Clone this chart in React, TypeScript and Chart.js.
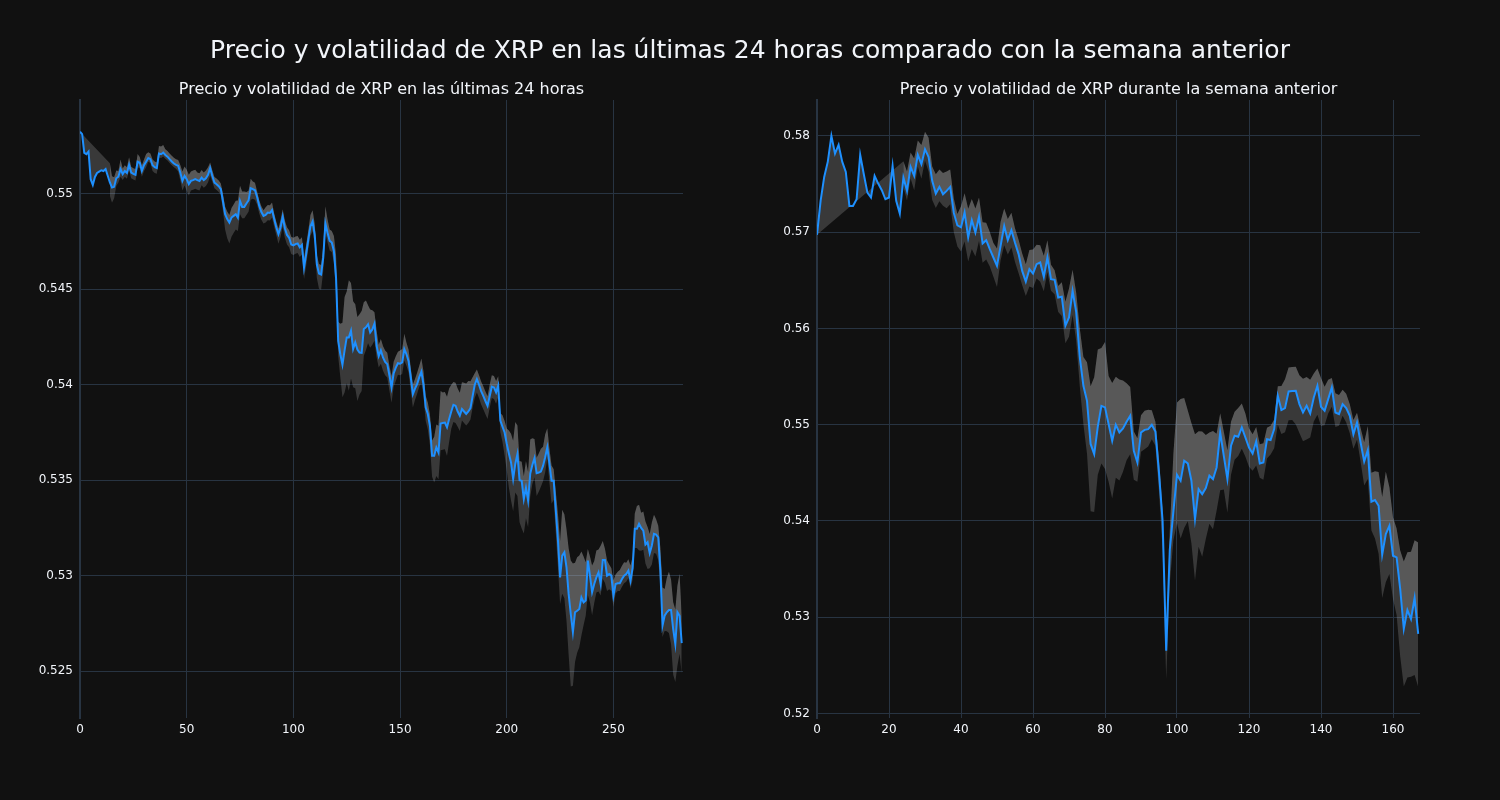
import React, { useEffect, useRef } from "react";
import { Chart, registerables } from "chart.js";

Chart.register(...registerables);

// ---- Last 24 hours (5-minute steps) ----
const dayPrice = [
  0.55326,0.55313,0.55215,0.55208,0.55222,0.55077,0.55047,0.55089,0.5511,0.55117,
  0.55124,0.5512,0.5513,0.55095,0.5506,0.55033,0.55037,0.55082,0.5509,0.5513,
  0.55103,0.5512,0.5511,0.55152,0.55112,0.55105,0.551,0.55169,0.55164,0.5512,
  0.5515,0.55169,0.55188,0.55182,0.5515,0.5514,0.55135,0.55211,0.55208,0.55216,
  0.55204,0.55195,0.55182,0.5517,0.55159,0.55152,0.55147,0.55112,0.55068,0.55094,
  0.55077,0.55051,0.55068,0.55072,0.55077,0.55072,0.55068,0.55085,0.55072,0.55082,
  0.551,0.55135,0.55094,0.55059,0.55051,0.5504,0.55025,0.5496,0.54894,0.54868,
  0.5485,0.54876,0.54885,0.54894,0.54875,0.54963,0.54932,0.54932,0.5495,0.54966,
  0.5503,0.55025,0.55019,0.54984,0.54937,0.54905,0.54885,0.5489,0.54902,0.549,
  0.54915,0.54868,0.54824,0.54789,0.54824,0.5488,0.5482,0.54785,0.5477,0.54735,
  0.5473,0.54737,0.5474,0.5472,0.54733,0.54614,0.54684,0.5476,0.5483,0.54855,
  0.54785,0.5463,0.54583,0.54578,0.54666,0.54845,0.54797,0.54754,0.54745,0.547,
  0.5456,0.5423,0.5416,0.54105,0.5418,0.54248,0.54248,0.54283,0.54187,0.54222,
  0.54185,0.54169,0.54167,0.54292,0.54301,0.54317,0.54274,0.5429,0.5432,0.54204,
  0.5415,0.5418,0.54143,0.5412,0.54108,0.5405,0.53986,0.5406,0.5409,0.54113,
  0.5411,0.54117,0.54187,0.5416,0.54123,0.5404,0.53951,0.5398,0.54003,0.5404,
  0.54068,0.54,0.53882,0.53847,0.53785,0.53628,0.53628,0.53672,0.53645,0.53797,
  0.538,0.53802,0.53777,0.5382,0.5386,0.53895,0.5389,0.5386,0.53838,0.53873,
  0.5386,0.53847,0.5386,0.53878,0.5394,0.54,0.5403,0.54,0.53967,0.53942,
  0.53915,0.5389,0.5394,0.5399,0.53986,0.5396,0.53995,0.53812,0.5378,0.5375,
  0.53691,0.5364,0.53593,0.53507,0.53585,0.53637,0.535,0.53497,0.53401,0.5346,
  0.53393,0.53533,0.5358,0.53616,0.53537,0.5354,0.53545,0.53575,0.5362,0.53672,
  0.53586,0.53497,0.53497,0.5334,0.53183,0.52991,0.53105,0.53122,0.53043,0.52904,
  0.52799,0.52703,0.52808,0.52816,0.52825,0.52886,0.5286,0.5287,0.53079,0.53,
  0.52913,0.52956,0.52991,0.53017,0.52956,0.53082,0.53082,0.53,0.53008,0.53,
  0.52895,0.52956,0.5296,0.5296,0.52982,0.53,0.53008,0.53026,0.52973,0.5304,
  0.53245,0.53245,0.53271,0.5325,0.53236,0.53163,0.53175,0.53118,0.53158,0.53219,
  0.53215,0.53201,0.53026,0.52738,0.5279,0.52808,0.5282,0.5282,0.5272,0.52642,
  0.52808,0.5279,0.52646,
];

// band distance above / below the price, in units of 0.0001
const dayBandUp = [
  0,null,null,null,null,null,null,null,null,null,
  null,null,null,null,10,6,5,4,3,5,
  3,3,3,4,3,3,3,4,3,3,
  3,4,3,3,3,3,3,4,4,4,
  3,3,3,3,3,3,3,4,5,5,
  5,5,5,5,5,4,4,4,4,4,
  4,3,3,3,3,3,3,4,4,4,
  4,5,6,7,9,8,8,8,6,5,
  5,4,4,3,3,3,3,4,4,4,
  4,3,3,3,4,4,4,4,4,4,
  4,4,4,4,4,5,5,5,6,6,
  6,5,5,5,6,9,7,6,6,8,
  12,10,16,22,28,24,30,25,25,20,
  17,20,22,14,14,10,12,10,6,8,
  6,6,6,6,6,5,6,6,6,6,
  7,7,8,6,6,5,5,5,6,6,
  7,7,6,6,6,8,10,12,14,17,
  16,16,16,16,14,12,12,12,12,14,
  15,16,16,14,10,6,5,5,5,5,
  5,5,6,6,6,6,5,4,6,6,
  8,12,15,20,22,15,10,10,12,14,
  15,18,14,10,8,10,12,10,12,10,
  8,8,6,10,14,19,24,20,20,24,
  28,36,26,28,28,24,24,20,6,10,
  14,12,14,12,20,10,6,8,5,4,
  8,5,6,7,7,7,6,6,8,6,
  8,12,10,8,10,12,8,10,12,10,
  8,6,12,20,14,18,20,16,14,18,
  14,22,14,
];

const dayBandDown = [
  null,null,null,null,null,null,null,null,null,null,
  null,null,null,null,7,8,6,4,3,4,
  3,3,3,3,3,3,3,3,3,3,
  3,3,2,2,3,3,3,2,2,2,
  2,2,2,2,2,2,3,4,5,5,
  6,6,5,5,5,5,5,4,4,4,
  4,4,3,3,3,3,3,5,8,10,
  11,10,9,8,7,7,6,6,6,6,
  6,5,5,4,4,4,4,4,4,4,
  4,4,4,5,5,5,5,5,5,5,
  5,5,5,5,5,6,6,5,5,5,
  5,7,8,8,7,5,5,5,5,6,
  8,8,12,17,22,24,28,25,20,24,
  27,22,20,14,12,10,8,8,9,6,
  6,7,7,7,7,8,8,7,7,6,
  6,6,6,6,6,7,7,6,5,5,
  6,6,7,8,10,11,14,15,14,14,
  14,14,15,12,9,9,9,8,8,6,
  6,6,6,6,6,7,7,7,7,7,
  7,7,6,6,6,6,6,6,8,12,
  14,18,20,17,15,22,22,25,18,16,
  14,12,10,10,12,10,8,8,8,6,
  10,12,10,12,14,14,20,24,28,32,
  38,28,26,22,20,20,12,8,18,14,
  12,10,8,10,6,10,12,8,8,8,
  6,5,4,4,4,4,4,4,4,6,
  10,10,14,12,10,10,14,8,10,10,
  10,12,8,6,8,10,12,18,24,20,
  28,20,16,
];

const dayXTicks = [0, 50, 100, 150, 200, 250];
const dayYTicks = [0.525, 0.53, 0.535, 0.54, 0.545, 0.55];

// ---- Previous week (hourly steps) ----
const weekPrice = [
  0.56972,0.57325,0.57574,0.57733,0.58,0.57816,0.57907,0.57733,0.57626,0.57273,
  0.57273,0.57342,0.57803,0.57602,0.57411,0.5736,0.57585,0.57505,0.57436,0.57342,
  0.5736,0.57688,0.57325,0.57193,0.57567,0.57429,0.57678,0.57585,0.57803,0.57706,
  0.57862,0.5778,0.57533,0.57401,0.5747,0.57394,0.57429,0.5747,0.572,0.5707,
  0.5705,0.57204,0.56944,0.57125,0.56996,0.57159,0.56882,0.56917,0.56823,0.56737,
  0.5665,0.56858,0.57065,0.56917,0.57021,0.5689,0.56772,0.56598,0.56487,0.56616,
  0.5657,0.56668,0.56685,0.56536,0.56737,0.56512,0.56505,0.56321,0.5633,0.56027,
  0.56114,0.5639,0.5617,0.55698,0.55404,0.55248,0.548,0.54694,0.5498,0.55196,
  0.5518,0.55006,0.54833,0.54999,0.54919,0.5496,0.5503,0.55092,0.54729,0.54608,
  0.54919,0.54946,0.54954,0.54999,0.5493,0.545,0.54,0.52652,0.537,0.541,
  0.5448,0.54418,0.54626,0.54598,0.54418,0.5402,0.54331,0.54279,0.54342,0.5447,
  0.54435,0.54556,0.54919,0.54677,0.54435,0.54781,0.54885,0.54874,0.54971,0.54867,
  0.54763,0.54701,0.54826,0.54598,0.54608,0.54849,0.5484,0.54954,0.553,0.55152,
  0.55172,0.55345,0.5535,0.55352,0.55214,0.55127,0.55196,0.55116,0.55282,0.55404,
  0.55186,0.55144,0.55266,0.55386,0.55127,0.55109,0.55214,0.55172,0.55092,0.549,
  0.55023,0.54815,0.54618,0.54736,0.542,0.54217,0.54158,0.5365,0.53864,0.5395,
  0.53639,0.53622,0.53293,0.5288,0.53075,0.52981,0.532,0.52826,
];

const weekBandUp = [
  0,null,null,null,null,null,null,null,null,null,
  null,null,null,null,null,null,null,null,null,null,
  null,null,null,null,17,20,15,18,15,20,
  18,20,15,20,18,22,20,18,15,12,
  22,20,30,22,25,20,22,18,18,15,
  18,25,18,22,18,15,15,18,18,20,
  25,20,18,22,18,15,10,12,15,25,
  30,22,20,30,30,40,60,80,80,60,
  68,50,60,50,55,50,40,30,20,25,
  18,20,20,15,10,15,10,5,20,60,
  75,85,65,55,60,88,60,65,55,45,
  50,35,20,25,30,25,25,30,25,25,
  20,20,15,20,20,12,15,10,10,25,
  30,25,25,25,30,35,30,35,25,18,
  30,25,20,10,20,20,15,15,12,15,
  10,15,20,25,30,30,35,60,65,40,
  40,30,40,70,60,70,60,95,
];

const weekBandDown = [
  null,null,null,null,null,null,null,null,null,null,
  null,null,null,null,null,null,null,null,null,null,
  null,null,null,null,10,10,12,15,12,15,
  12,15,20,15,15,12,18,18,20,22,
  25,30,25,30,25,25,20,20,18,20,
  22,15,20,15,18,20,20,15,15,18,
  15,15,20,15,15,12,15,15,20,18,
  20,25,30,30,40,55,70,60,50,60,
  64,60,60,55,50,45,40,40,30,20,
  20,20,18,15,15,20,30,30,35,30,
  50,60,70,60,65,64,60,65,53,50,
  52,45,60,35,35,30,25,20,22,20,
  20,18,25,15,18,20,15,20,30,25,
  25,30,30,35,30,30,35,25,25,30,
  20,15,15,20,15,12,12,15,18,15,
  18,20,25,30,30,40,50,45,50,50,
  45,60,70,60,70,60,80,55,
];

const weekXTicks = [0, 20, 40, 60, 80, 100, 120, 140, 160];
const weekYTicks = [0.52, 0.53, 0.54, 0.55, 0.56, 0.57, 0.58];

const mainTitle = "Precio y volatilidad de XRP en las últimas 24 horas comparado con la semana anterior";
const dayTitle = "Precio y volatilidad de XRP en las últimas 24 horas";
const weekTitle = "Precio y volatilidad de XRP durante la semana anterior";

const BG = "#111111";
const GRID = "#283442";
const TEXT = "#f2f5fa";
const LINE = "#1e90ff";
const BAND = "rgba(200,200,200,0.22)";
const FONT = '"DejaVu Sans", sans-serif';

function buildDatasets(price: number[], up: (number | null)[], dn: (number | null)[]) {
  const pts = price.map((v, i) => ({ x: i, y: v }));
  const upper = price.map((v, i) => ({ x: i, y: up[i] == null ? null : v + (up[i] as number) * 1e-4 }));
  const lower = price.map((v, i) => ({ x: i, y: dn[i] == null ? null : v - (dn[i] as number) * 1e-4 }));
  return [
    { data: pts, borderColor: LINE, borderWidth: 2, pointRadius: 0, fill: false, tension: 0 },
    { data: upper, borderColor: "rgba(0,0,0,0)", borderWidth: 0, pointRadius: 0, fill: 0, backgroundColor: BAND, spanGaps: true },
    { data: lower, borderColor: "rgba(0,0,0,0)", borderWidth: 0, pointRadius: 0, fill: 1, backgroundColor: BAND, spanGaps: false },
  ];
}

function makeConfig(opts: {
  price: number[]; up: (number | null)[]; dn: (number | null)[];
  xMax: number; yMin: number; yMax: number; xTicks: number[]; yTicks: number[];
  yAxisWidth: number; padRight: number;
}): any {
  return {
    type: "line",
    data: { datasets: buildDatasets(opts.price, opts.up, opts.dn) },
    options: {
      responsive: false,
      animation: false,
      devicePixelRatio: 1,
      layout: { padding: { left: 0, top: 100, right: opts.padRight, bottom: 0 } },
      plugins: { legend: { display: false }, tooltip: { enabled: false }, title: { display: false } },
      elements: { line: { tension: 0 } },
      scales: {
        x: {
          type: "linear",
          min: 0,
          max: opts.xMax,
          afterBuildTicks: (s: any) => { s.ticks = opts.xTicks.map((v) => ({ value: v })); },
          afterFit: (s: any) => { s.height = 82; },
          grid: { color: GRID, lineWidth: 1, drawTicks: false },
          border: { display: false },
          ticks: {
            color: TEXT, font: { family: FONT, size: 12 }, padding: 5,
            autoSkip: false, maxRotation: 0, includeBounds: false,
            callback: (v: any) => String(v),
          },
        },
        y: {
          type: "linear",
          min: opts.yMin,
          max: opts.yMax,
          afterBuildTicks: (s: any) => { s.ticks = opts.yTicks.map((v) => ({ value: v })); },
          afterFit: (s: any) => { s.width = opts.yAxisWidth; },
          grid: { color: GRID, lineWidth: 1, drawTicks: false },
          border: { display: true, color: GRID, width: 2 },
          ticks: {
            color: TEXT, font: { family: FONT, size: 12 }, padding: 7,
            autoSkip: false, includeBounds: false,
            callback: (v: any) => String(parseFloat(Number(v).toFixed(4))),
          },
        },
      },
    },
  };
}

export default function App() {
  const leftRef = useRef<HTMLCanvasElement | null>(null);
  const rightRef = useRef<HTMLCanvasElement | null>(null);

  useEffect(() => {
    Chart.defaults.font.family = FONT;
    const c1 = new Chart(leftRef.current as HTMLCanvasElement, makeConfig({
      price: dayPrice, up: dayBandUp, dn: dayBandDown,
      xMax: 282.6, yMin: 0.52254, yMax: 0.55492,
      xTicks: dayXTicks, yTicks: dayYTicks, yAxisWidth: 80, padRight: 67,
    }));
    const c2 = new Chart(rightRef.current as HTMLCanvasElement, makeConfig({
      price: weekPrice, up: weekBandUp, dn: weekBandDown,
      xMax: 167.5, yMin: 0.51953, yMax: 0.58373,
      xTicks: weekXTicks, yTicks: weekYTicks, yAxisWidth: 67, padRight: 80,
    }));
    return () => { c1.destroy(); c2.destroy(); };
  }, []);

  return (
    <div style={{ position: "fixed", left: 0, top: 0, width: 1500, height: 800, background: BG, overflow: "hidden", fontFamily: FONT, color: TEXT }}>
      <canvas ref={leftRef} width={750} height={800} style={{ position: "absolute", left: 0, top: 0 }} />
      <canvas ref={rightRef} width={750} height={800} style={{ position: "absolute", left: 750, top: 0 }} />
      <div style={{ position: "absolute", left: 0, top: 35, width: 1500, textAlign: "center", fontSize: 25, lineHeight: "29px", whiteSpace: "nowrap" }}>{mainTitle}</div>
      <div style={{ position: "absolute", left: 80, top: 80, width: 603, textAlign: "center", fontSize: 16, lineHeight: "18px", whiteSpace: "nowrap" }}>{dayTitle}</div>
      <div style={{ position: "absolute", left: 817, top: 80, width: 603, textAlign: "center", fontSize: 16, lineHeight: "18px", whiteSpace: "nowrap" }}>{weekTitle}</div>
    </div>
  );
}
